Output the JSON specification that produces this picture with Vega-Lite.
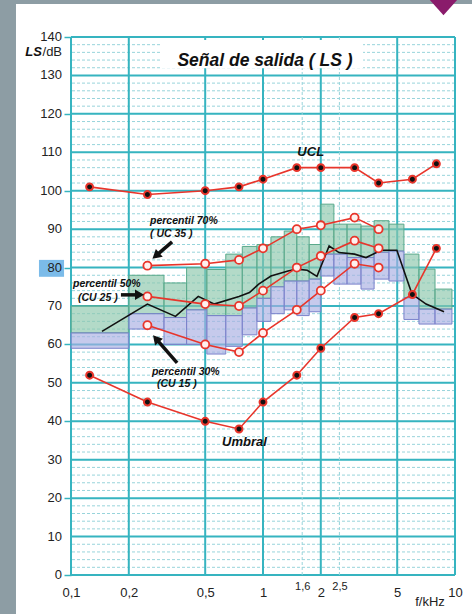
{
  "$schema": "https://vega.github.io/schema/vega-lite/v6.json",
  "width": 384,
  "height": 538,
  "autosize": {"type": "none"},
  "padding": {"left": 71, "top": 37, "right": 17, "bottom": 39},
  "background": "#ffffff",
  "config": {
    "view": {"stroke": null},
    "font": "Liberation Sans"
  },
  "datasets": {
    "hgrid": [
      {"ls": 0}, {"ls": 2}, {"ls": 4}, {"ls": 6}, {"ls": 8}, {"ls": 10}, {"ls": 12}, {"ls": 14}, {"ls": 16}, {"ls": 18},
      {"ls": 20}, {"ls": 22}, {"ls": 24}, {"ls": 26}, {"ls": 28}, {"ls": 30}, {"ls": 32}, {"ls": 34}, {"ls": 36}, {"ls": 38},
      {"ls": 40}, {"ls": 42}, {"ls": 44}, {"ls": 46}, {"ls": 48}, {"ls": 50}, {"ls": 52}, {"ls": 54}, {"ls": 56}, {"ls": 58},
      {"ls": 60}, {"ls": 62}, {"ls": 64}, {"ls": 66}, {"ls": 68}, {"ls": 70}, {"ls": 72}, {"ls": 74}, {"ls": 76}, {"ls": 78},
      {"ls": 80}, {"ls": 82}, {"ls": 84}, {"ls": 86}, {"ls": 88}, {"ls": 90}, {"ls": 92}, {"ls": 94}, {"ls": 96}, {"ls": 98},
      {"ls": 100}, {"ls": 102}, {"ls": 104}, {"ls": 106}, {"ls": 108}, {"ls": 110}, {"ls": 112}, {"ls": 114}, {"ls": 116}, {"ls": 118},
      {"ls": 120}, {"ls": 122}, {"ls": 124}, {"ls": 126}, {"ls": 128}, {"ls": 130}, {"ls": 132}, {"ls": 134}, {"ls": 136}, {"ls": 138},
      {"ls": 140}
    ],
    "ylabels": [
      {"ls": 0}, {"ls": 10}, {"ls": 20}, {"ls": 30}, {"ls": 40}, {"ls": 50}, {"ls": 60}, {"ls": 70},
      {"ls": 80}, {"ls": 90}, {"ls": 100}, {"ls": 110}, {"ls": 120}, {"ls": 130}, {"ls": 140}
    ],
    "vgrid": [
      {"f": 0.1}, {"f": 0.2}, {"f": 0.5}, {"f": 1}, {"f": 1.6}, {"f": 2}, {"f": 2.5}, {"f": 5}, {"f": 10}
    ],
    "bands": [
      {"f0": 0.1, "f1": 0.2, "lo": 59, "mid": 63, "hi": 70},
      {"f0": 0.2, "f1": 0.305, "lo": 64, "mid": 68, "hi": 78},
      {"f0": 0.305, "f1": 0.4, "lo": 60, "mid": 67, "hi": 76},
      {"f0": 0.4, "f1": 0.51, "lo": 60, "mid": 69, "hi": 80},
      {"f0": 0.51, "f1": 0.64, "lo": 57.5, "mid": 67.5, "hi": 79.5},
      {"f0": 0.64, "f1": 0.78, "lo": 59.5, "mid": 67.5, "hi": 83.5},
      {"f0": 0.78, "f1": 0.93, "lo": 62.5, "mid": 69.5, "hi": 85.5},
      {"f0": 0.93, "f1": 1.1, "lo": 66, "mid": 72, "hi": 86},
      {"f0": 1.1, "f1": 1.29, "lo": 68, "mid": 75, "hi": 88},
      {"f0": 1.29, "f1": 1.5, "lo": 69, "mid": 76.5, "hi": 89.5},
      {"f0": 1.5, "f1": 1.74, "lo": 67.5, "mid": 76.5, "hi": 88},
      {"f0": 1.74, "f1": 2.0, "lo": 68.5, "mid": 77, "hi": 86},
      {"f0": 2.0, "f1": 2.34, "lo": 77.8, "mid": 83.5, "hi": 96.5},
      {"f0": 2.34, "f1": 2.74, "lo": 75.7, "mid": 83.5, "hi": 91.3},
      {"f0": 2.74, "f1": 3.24, "lo": 75.7, "mid": 82.6, "hi": 91.3},
      {"f0": 3.24, "f1": 3.79, "lo": 74.4, "mid": 82.6, "hi": 90.8},
      {"f0": 3.79, "f1": 4.53, "lo": 77, "mid": 84, "hi": 92.2},
      {"f0": 4.53, "f1": 5.42, "lo": 76.5, "mid": 84.3, "hi": 91.3},
      {"f0": 5.42, "f1": 6.49, "lo": 66.5, "mid": 72.2, "hi": 83.5},
      {"f0": 6.49, "f1": 7.87, "lo": 65.3, "mid": 69.2, "hi": 79.6},
      {"f0": 7.87, "f1": 9.64, "lo": 65.3, "mid": 69.2, "hi": 74.4}
    ],
    "measured": [
      {"f": 0.145, "ls": 63.4}, {"f": 0.25, "ls": 70.5}, {"f": 0.35, "ls": 67.3}, {"f": 0.46, "ls": 72.5},
      {"f": 0.556, "ls": 70.5}, {"f": 0.75, "ls": 72.5}, {"f": 0.85, "ls": 73.5}, {"f": 0.95, "ls": 75.7},
      {"f": 1.1, "ls": 77.8}, {"f": 1.35, "ls": 79.1}, {"f": 1.5, "ls": 79.6}, {"f": 1.7, "ls": 79.3},
      {"f": 1.91, "ls": 77.7}, {"f": 2.21, "ls": 85.6}, {"f": 2.49, "ls": 83.9}, {"f": 3.0, "ls": 83.5},
      {"f": 3.44, "ls": 82.6}, {"f": 4.12, "ls": 84.5}, {"f": 4.98, "ls": 84.5}, {"f": 5.97, "ls": 73.1},
      {"f": 7.07, "ls": 70.5}, {"f": 8.77, "ls": 68.5}
    ],
    "limits": [
      {"series": "UCL", "f": 0.125, "ls": 101}, {"series": "UCL", "f": 0.25, "ls": 99}, {"series": "UCL", "f": 0.5, "ls": 100},
      {"series": "UCL", "f": 0.75, "ls": 101}, {"series": "UCL", "f": 1, "ls": 103}, {"series": "UCL", "f": 1.5, "ls": 106},
      {"series": "UCL", "f": 2, "ls": 106}, {"series": "UCL", "f": 3, "ls": 106}, {"series": "UCL", "f": 4, "ls": 102},
      {"series": "UCL", "f": 6, "ls": 103}, {"series": "UCL", "f": 8, "ls": 107},
      {"series": "Umbral", "f": 0.125, "ls": 52}, {"series": "Umbral", "f": 0.25, "ls": 45}, {"series": "Umbral", "f": 0.5, "ls": 40},
      {"series": "Umbral", "f": 0.75, "ls": 38}, {"series": "Umbral", "f": 1, "ls": 45}, {"series": "Umbral", "f": 1.5, "ls": 52},
      {"series": "Umbral", "f": 2, "ls": 59}, {"series": "Umbral", "f": 3, "ls": 67}, {"series": "Umbral", "f": 4, "ls": 68},
      {"series": "Umbral", "f": 6, "ls": 73}, {"series": "Umbral", "f": 8, "ls": 85}
    ],
    "percentiles": [
      {"series": "P70", "f": 0.25, "ls": 80.5}, {"series": "P70", "f": 0.5, "ls": 81}, {"series": "P70", "f": 0.75, "ls": 82},
      {"series": "P70", "f": 1, "ls": 85}, {"series": "P70", "f": 1.5, "ls": 90}, {"series": "P70", "f": 2, "ls": 91},
      {"series": "P70", "f": 3, "ls": 93}, {"series": "P70", "f": 4, "ls": 90},
      {"series": "P50", "f": 0.25, "ls": 72.5}, {"series": "P50", "f": 0.5, "ls": 70.5}, {"series": "P50", "f": 0.75, "ls": 70},
      {"series": "P50", "f": 1, "ls": 74}, {"series": "P50", "f": 1.5, "ls": 80}, {"series": "P50", "f": 2, "ls": 83},
      {"series": "P50", "f": 3, "ls": 87}, {"series": "P50", "f": 4, "ls": 85},
      {"series": "P30", "f": 0.25, "ls": 65}, {"series": "P30", "f": 0.5, "ls": 60}, {"series": "P30", "f": 0.75, "ls": 58},
      {"series": "P30", "f": 1, "ls": 63}, {"series": "P30", "f": 1.5, "ls": 69}, {"series": "P30", "f": 2, "ls": 74},
      {"series": "P30", "f": 3, "ls": 81}, {"series": "P30", "f": 4, "ls": 80}
    ],
    "arrows": [
      {"f": 0.336, "ls": 86.7, "f2": 0.2805, "ls2": 83.3},
      {"f": 0.182, "ls": 72.9, "f2": 0.2234, "ls2": 72.9},
      {"f": 0.357, "ls": 55.2, "f2": 0.2805, "ls2": 61.2}
    ],
    "notes": [
      {"text": "percentil 70%", "f": 0.258, "ls": 92.1},
      {"text": "( UC 35 )", "f": 0.258, "ls": 88.7},
      {"text": "percentil 50%", "f": 0.1024, "ls": 75.7},
      {"text": "(CU 25 )", "f": 0.1087, "ls": 72.2},
      {"text": "percentil 30%", "f": 0.264, "ls": 52.8},
      {"text": "(CU 15 )", "f": 0.2805, "ls": 49.6}
    ],
    "labels": [
      {"text": "UCL", "f": 1.51, "ls": 110.1},
      {"text": "Umbral", "f": 0.612, "ls": 34.6}
    ]
  },
  "layer": [
    {
      "data": {"name": "hgrid"},
      "mark": {"type": "rule"},
      "encoding": {
        "y": {
          "field": "ls", "type": "quantitative",
          "scale": {"domain": [0, 140], "nice": false},
          "axis": {
            "values": [0, 10, 20, 30, 40, 50, 60, 70, 80, 90, 100, 110, 120, 130, 140],
            "title": null, "domain": false, "grid": false, "labels": false,
            "tickSize": 7, "tickColor": "#36b4c0", "tickWidth": 1.5, "zindex": 1
          }
        },
        "color": {"condition": {"test": "datum.ls % 10 == 0", "value": "#36b4c0"}, "value": "#98d4db"},
        "strokeWidth": {"condition": {"test": "datum.ls % 10 == 0", "value": 2}, "value": 1},
        "strokeDash": {"condition": {"test": "datum.ls % 10 == 0", "value": [1, 0]}, "value": [3, 2]}
      }
    },
    {
      "data": {"name": "vgrid"},
      "mark": {"type": "rule"},
      "encoding": {
        "x": {
          "field": "f", "type": "quantitative",
          "scale": {"type": "log", "domain": [0.1, 10], "nice": false},
          "axis": {
            "values": [0.1, 0.2, 0.5, 1, 1.6, 2, 2.5, 5, 10],
            "title": null, "domain": false, "grid": false, "ticks": false,
            "labelExpr": "replace(toString(datum.value), '.', ',')",
            "labelFontSize": {"condition": {"test": "datum.value == 1.6 || datum.value == 2.5", "value": 11}, "value": 13},
            "labelPadding": {"condition": {"test": "datum.value == 1.6 || datum.value == 2.5", "value": 5}, "value": 11},
            "labelColor": "#222222", "labelFont": "Liberation Sans",
            "labelFlush": false, "labelOverlap": false, "labelBound": false, "zindex": 1
          }
        },
        "color": {"condition": {"test": "datum.f == 1.6 || datum.f == 2.5", "value": "#98d4db"}, "value": "#36b4c0"},
        "strokeWidth": {"condition": {"test": "datum.f == 1.6 || datum.f == 2.5", "value": 1}, "value": 2},
        "strokeDash": {"condition": {"test": "datum.f == 1.6 || datum.f == 2.5", "value": [3, 2]}, "value": [1, 0]}
      }
    },
    {
      "data": {"values": [{}]},
      "mark": {"type": "rect", "color": "#8d9da4"},
      "encoding": {
        "x": {"datum": 0.0379, "type": "quantitative", "scale": {"type": "log", "domain": [0.1, 10], "nice": false}},
        "x2": {"datum": 0.0517},
        "y": {"datum": -15, "type": "quantitative", "scale": {"domain": [0, 140], "nice": false}},
        "y2": {"datum": 160}
      }
    },
    {
      "data": {"values": [{}]},
      "mark": {"type": "rect", "color": "#8d9da4"},
      "encoding": {
        "x": {"datum": 0.0379, "type": "quantitative", "scale": {"type": "log", "domain": [0.1, 10], "nice": false}},
        "x2": {"datum": 20},
        "y": {"datum": 148.6, "type": "quantitative", "scale": {"domain": [0, 140], "nice": false}},
        "y2": {"datum": 160}
      }
    },
    {
      "data": {"values": [{}]},
      "mark": {"type": "rect", "color": "#7bbbe9"},
      "encoding": {
        "x": {"datum": 0.0681, "type": "quantitative", "scale": {"type": "log", "domain": [0.1, 10], "nice": false}},
        "x2": {"datum": 0.092},
        "y": {"datum": 77.6, "type": "quantitative", "scale": {"domain": [0, 140], "nice": false}},
        "y2": {"datum": 82}
      }
    },
    {
      "data": {"name": "ylabels"},
      "mark": {"type": "text", "font": "Liberation Sans", "fontSize": 13, "align": "right", "baseline": "middle", "color": "#222222"},
      "encoding": {
        "text": {"field": "ls", "type": "quantitative"},
        "x": {"datum": 0.0898, "type": "quantitative", "scale": {"type": "log", "domain": [0.1, 10], "nice": false}},
        "y": {"field": "ls", "type": "quantitative", "scale": {"domain": [0, 140], "nice": false}}
      }
    },
    {
      "data": {"name": "bands"},
      "mark": {"type": "rect", "fill": "#8cc7ab", "fillOpacity": 0.66, "stroke": "#5aa98b", "strokeWidth": 1},
      "encoding": {
        "x": {"field": "f0", "type": "quantitative", "scale": {"type": "log", "domain": [0.1, 10], "nice": false}},
        "x2": {"field": "f1"},
        "y": {"field": "mid", "type": "quantitative", "scale": {"domain": [0, 140], "nice": false}},
        "y2": {"field": "hi"}
      }
    },
    {
      "data": {"name": "bands"},
      "mark": {"type": "rect", "fill": "#a8aee2", "fillOpacity": 0.66, "stroke": "#7b82cb", "strokeWidth": 1},
      "encoding": {
        "x": {"field": "f0", "type": "quantitative", "scale": {"type": "log", "domain": [0.1, 10], "nice": false}},
        "x2": {"field": "f1"},
        "y": {"field": "lo", "type": "quantitative", "scale": {"domain": [0, 140], "nice": false}},
        "y2": {"field": "mid"}
      }
    },
    {
      "data": {"values": [{}]},
      "mark": {"type": "rect", "color": "#ffffff"},
      "encoding": {
        "x": {"datum": 0.291, "type": "quantitative", "scale": {"type": "log", "domain": [0.1, 10], "nice": false}},
        "x2": {"datum": 3.32},
        "y": {"datum": 131.9, "type": "quantitative", "scale": {"domain": [0, 140], "nice": false}},
        "y2": {"datum": 139.2}
      }
    },
    {
      "data": {"values": [{"text": "Señal de salida ( LS )"}]},
      "mark": {"type": "text", "font": "Liberation Sans", "fontSize": 17.5, "fontStyle": "italic", "fontWeight": "bold", "align": "center", "baseline": "middle", "color": "#111111"},
      "encoding": {
        "text": {"field": "text"},
        "x": {"datum": 1.024, "type": "quantitative", "scale": {"type": "log", "domain": [0.1, 10], "nice": false}},
        "y": {"datum": 133.8, "type": "quantitative", "scale": {"domain": [0, 140], "nice": false}}
      }
    },
    {
      "data": {"name": "measured"},
      "mark": {"type": "line", "color": "#111111", "strokeWidth": 1.6},
      "encoding": {
        "x": {"field": "f", "type": "quantitative", "scale": {"type": "log", "domain": [0.1, 10], "nice": false}},
        "y": {"field": "ls", "type": "quantitative", "scale": {"domain": [0, 140], "nice": false}}
      }
    },
    {
      "data": {"name": "limits"},
      "mark": {"type": "line", "color": "#e8352b", "strokeWidth": 1.6},
      "encoding": {
        "x": {"field": "f", "type": "quantitative", "scale": {"type": "log", "domain": [0.1, 10], "nice": false}},
        "y": {"field": "ls", "type": "quantitative", "scale": {"domain": [0, 140], "nice": false}},
        "detail": {"field": "series"}
      }
    },
    {
      "data": {"name": "percentiles"},
      "mark": {"type": "line", "color": "#e8352b", "strokeWidth": 1.6},
      "encoding": {
        "x": {"field": "f", "type": "quantitative", "scale": {"type": "log", "domain": [0.1, 10], "nice": false}},
        "y": {"field": "ls", "type": "quantitative", "scale": {"domain": [0, 140], "nice": false}},
        "detail": {"field": "series"}
      }
    },
    {
      "data": {"name": "limits"},
      "mark": {"type": "circle", "fill": "#111111", "stroke": "#e8352b", "strokeWidth": 2, "size": 48, "opacity": 1},
      "encoding": {
        "x": {"field": "f", "type": "quantitative", "scale": {"type": "log", "domain": [0.1, 10], "nice": false}},
        "y": {"field": "ls", "type": "quantitative", "scale": {"domain": [0, 140], "nice": false}}
      }
    },
    {
      "data": {"name": "percentiles"},
      "mark": {"type": "circle", "fill": "#fff0ee", "stroke": "#e8352b", "strokeWidth": 1.8, "size": 65, "opacity": 1},
      "encoding": {
        "x": {"field": "f", "type": "quantitative", "scale": {"type": "log", "domain": [0.1, 10], "nice": false}},
        "y": {"field": "ls", "type": "quantitative", "scale": {"domain": [0, 140], "nice": false}}
      }
    },
    {
      "data": {"name": "arrows"},
      "mark": {"type": "rule", "color": "#111111", "strokeWidth": 3.5},
      "encoding": {
        "x": {"field": "f", "type": "quantitative", "scale": {"type": "log", "domain": [0.1, 10], "nice": false}},
        "y": {"field": "ls", "type": "quantitative", "scale": {"domain": [0, 140], "nice": false}},
        "x2": {"field": "f2"},
        "y2": {"field": "ls2"}
      }
    },
    {
      "data": {"values": [{"f": 0.2805, "ls": 83.3}]},
      "mark": {"type": "point", "shape": "triangle", "filled": true, "color": "#111111", "opacity": 1, "size": 110, "angle": 229},
      "encoding": {
        "x": {"field": "f", "type": "quantitative", "scale": {"type": "log", "domain": [0.1, 10], "nice": false}},
        "y": {"field": "ls", "type": "quantitative", "scale": {"domain": [0, 140], "nice": false}}
      }
    },
    {
      "data": {"values": [{"f": 0.2234, "ls": 72.9}]},
      "mark": {"type": "point", "shape": "triangle", "filled": true, "color": "#111111", "opacity": 1, "size": 110, "angle": 90},
      "encoding": {
        "x": {"field": "f", "type": "quantitative", "scale": {"type": "log", "domain": [0.1, 10], "nice": false}},
        "y": {"field": "ls", "type": "quantitative", "scale": {"domain": [0, 140], "nice": false}}
      }
    },
    {
      "data": {"values": [{"f": 0.2805, "ls": 61.2}]},
      "mark": {"type": "point", "shape": "triangle", "filled": true, "color": "#111111", "opacity": 1, "size": 110, "angle": 319},
      "encoding": {
        "x": {"field": "f", "type": "quantitative", "scale": {"type": "log", "domain": [0.1, 10], "nice": false}},
        "y": {"field": "ls", "type": "quantitative", "scale": {"domain": [0, 140], "nice": false}}
      }
    },
    {
      "data": {"name": "notes"},
      "mark": {"type": "text", "font": "Liberation Sans", "fontSize": 10.5, "fontStyle": "italic", "fontWeight": "bold", "align": "left", "baseline": "middle", "color": "#111111"},
      "encoding": {
        "text": {"field": "text"},
        "x": {"field": "f", "type": "quantitative", "scale": {"type": "log", "domain": [0.1, 10], "nice": false}},
        "y": {"field": "ls", "type": "quantitative", "scale": {"domain": [0, 140], "nice": false}}
      }
    },
    {
      "data": {"name": "labels"},
      "mark": {"type": "text", "font": "Liberation Sans", "fontSize": 13, "fontStyle": "italic", "fontWeight": "bold", "align": "left", "baseline": "middle", "color": "#111111"},
      "encoding": {
        "text": {"field": "text"},
        "x": {"field": "f", "type": "quantitative", "scale": {"type": "log", "domain": [0.1, 10], "nice": false}},
        "y": {"field": "ls", "type": "quantitative", "scale": {"domain": [0, 140], "nice": false}}
      }
    },
    {
      "data": {"values": [{"text": "LS"}]},
      "mark": {"type": "text", "font": "Liberation Sans", "fontSize": 13, "fontStyle": "italic", "fontWeight": "bold", "align": "right", "baseline": "middle", "color": "#111111"},
      "encoding": {
        "text": {"field": "text"},
        "x": {"datum": 0.0705, "type": "quantitative", "scale": {"type": "log", "domain": [0.1, 10], "nice": false}},
        "y": {"datum": 136.1, "type": "quantitative", "scale": {"domain": [0, 140], "nice": false}}
      }
    },
    {
      "data": {"values": [{"text": "/dB"}]},
      "mark": {"type": "text", "font": "Liberation Sans", "fontSize": 13, "align": "right", "baseline": "middle", "color": "#222222"},
      "encoding": {
        "text": {"field": "text"},
        "x": {"datum": 0.0898, "type": "quantitative", "scale": {"type": "log", "domain": [0.1, 10], "nice": false}},
        "y": {"datum": 136.1, "type": "quantitative", "scale": {"domain": [0, 140], "nice": false}}
      }
    },
    {
      "data": {"values": [{"text": "f/kHz"}]},
      "mark": {"type": "text", "font": "Liberation Sans", "fontSize": 13, "align": "center", "baseline": "middle", "color": "#222222"},
      "encoding": {
        "text": {"field": "text"},
        "x": {"datum": 7.41, "type": "quantitative", "scale": {"type": "log", "domain": [0.1, 10], "nice": false}},
        "y": {"datum": -7, "type": "quantitative", "scale": {"domain": [0, 140], "nice": false}}
      }
    },
    {
      "data": {"values": [{}]},
      "mark": {"type": "point", "shape": "M-1.8,-1L1.8,-1L0,1Z", "filled": true, "color": "#8a1b6b", "opacity": 1, "size": 289},
      "encoding": {
        "x": {"datum": 8.71, "type": "quantitative", "scale": {"type": "log", "domain": [0.1, 10], "nice": false}},
        "y": {"datum": 147.9, "type": "quantitative", "scale": {"domain": [0, 140], "nice": false}}
      }
    }
  ]
}
